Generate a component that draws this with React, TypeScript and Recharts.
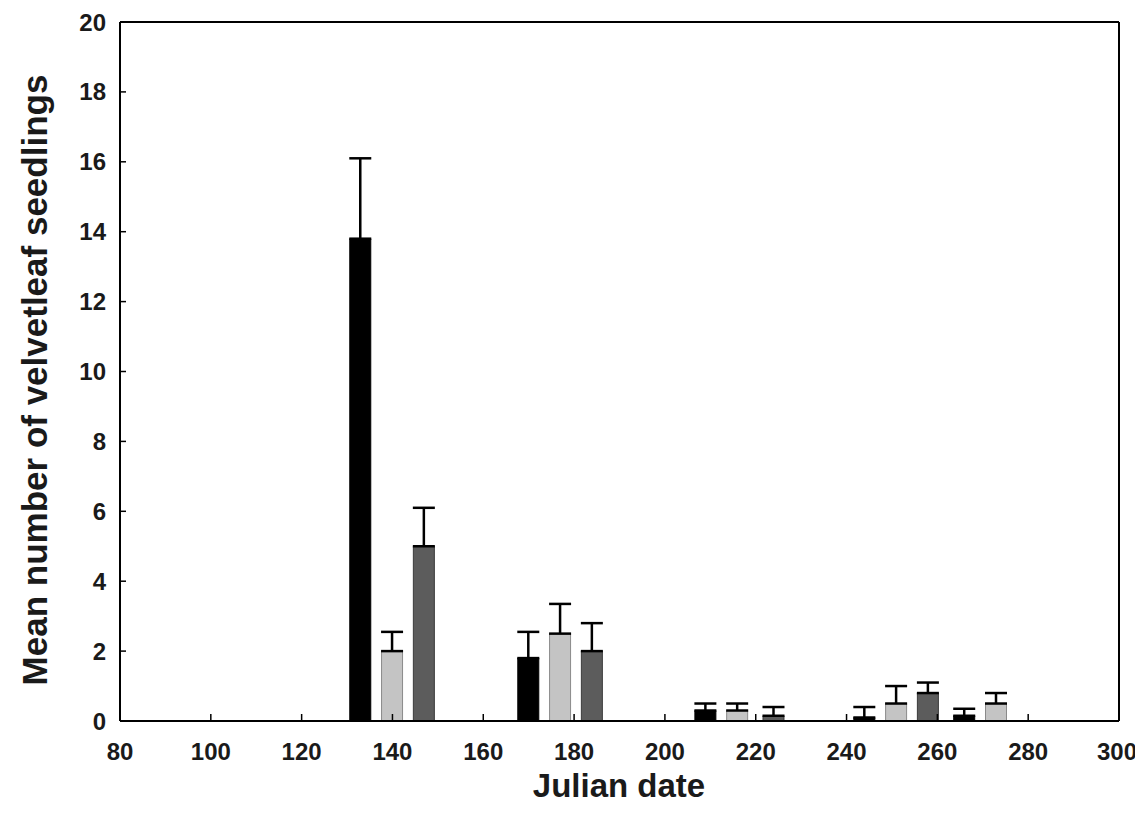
import { BarChart, Bar, XAxis, YAxis, ErrorBar, Cell, ReferenceLine, Label } from 'recharts';

// sampling dates (Julian) and the mean seedling counts
const dates = [133, 140, 147, 170, 177, 184, 209, 216, 224, 244, 251, 258, 266, 273];
const means = [13.8, 2.0, 5.0, 1.8, 2.5, 2.0, 0.3, 0.3, 0.15, 0.1, 0.5, 0.8, 0.15, 0.5];
const upperErrors = [2.3, 0.55, 1.1, 0.75, 0.85, 0.8, 0.2, 0.2, 0.25, 0.3, 0.5, 0.3, 0.2, 0.3];
const shades = ['black', 'light', 'dark', 'black', 'light', 'dark', 'black', 'light', 'dark', 'black', 'light', 'dark', 'black', 'light'];

const xTicks = [80, 100, 120, 140, 160, 180, 200, 220, 240, 260, 280, 300];
const yTicks = [0, 2, 4, 6, 8, 10, 12, 14, 16, 18, 20];

const shadeStyles: Record<string, { fill: string; stroke: string }> = {
  black: { fill: '#000000', stroke: '#000000' },
  light: { fill: '#c4c4c4', stroke: '#8a8a8a' },
  dark: { fill: '#5c5c5c', stroke: '#3a3a3a' },
};

const font = '"Liberation Sans", Arial, sans-serif';

const chartData = dates.map((date, i) => ({
  date,
  mean: means[i],
  err: [0, upperErrors[i]],
  shade: shades[i],
}));

const tickStyle = { fontFamily: font, fontSize: 24, fontWeight: 700, fill: '#1a1a1a' };

export default function App() {
  return (
    <>
      {/* the "300" label sits right at the page edge, let it spill past the svg box */}
      <style>{'svg.recharts-surface { overflow: visible; }'}</style>
      <BarChart
        width={1127}
        height={812}
        data={chartData}
        margin={{ top: 14, right: 16, left: 12, bottom: 19 }}
      >
        <XAxis
          dataKey="date"
          type="number"
          domain={[80, 300]}
          ticks={xTicks}
          height={80}
          tickSize={-7}
          tickMargin={29}
          axisLine={{ stroke: '#000', strokeWidth: 2 }}
          tickLine={{ stroke: '#000', strokeWidth: 1.5 }}
          tick={tickStyle}
        >
          <Label
            content={() => (
              <text
                x={611}
                y={789}
                textAnchor="middle"
                fontFamily={font}
                fontSize={33}
                fontWeight={700}
                fill="#1a1a1a"
              >
                Julian date
              </text>
            )}
          />
        </XAxis>
        <YAxis
          type="number"
          domain={[0, 20]}
          ticks={yTicks}
          width={100}
          tickSize={-6}
          tickMargin={20}
          axisLine={{ stroke: '#000', strokeWidth: 2 }}
          tickLine={{ stroke: '#000', strokeWidth: 1.5 }}
          tick={tickStyle}
        >
          <Label
            content={() => (
              <text
                x={39}
                y={372}
                transform="rotate(-90 39 372)"
                textAnchor="middle"
                fontFamily={font}
                fontSize={35}
                fontWeight={700}
                fill="#1a1a1a"
              >
                Mean number of velvetleaf seedlings
              </text>
            )}
          />
        </YAxis>
        <ReferenceLine y={20} stroke="#000" strokeWidth={2} />
        <ReferenceLine x={300} stroke="#000" strokeWidth={2} />
        <Bar dataKey="mean" barSize={21} strokeWidth={1} isAnimationActive={false}>
          {chartData.map((d, i) => (
            <Cell key={i} fill={shadeStyles[d.shade].fill} stroke={shadeStyles[d.shade].stroke} />
          ))}
          <ErrorBar dataKey="err" width={11} stroke="#000" strokeWidth={2.5} direction="y" />
        </Bar>
      </BarChart>
    </>
  );
}
